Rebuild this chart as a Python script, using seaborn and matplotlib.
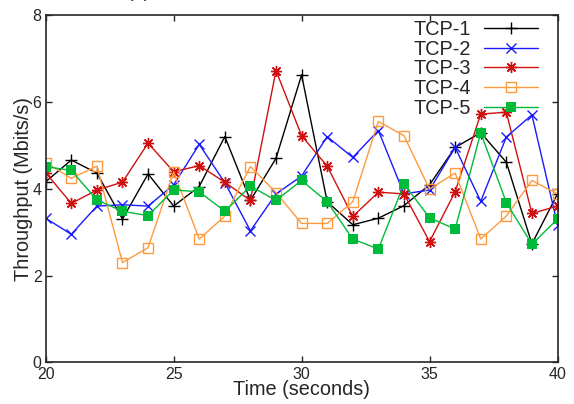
import matplotlib
matplotlib.use("Agg")
import matplotlib.pyplot as plt
import seaborn as sns
import pandas as pd

time = list(range(20, 41))
tcp1 = [4.16, 4.66, 4.36, 3.30, 4.34, 3.60, 4.05, 5.20, 3.73, 4.70, 6.62,
        3.70, 3.17, 3.32, 3.61, 4.09, 4.95, 5.29, 4.61, 2.73, 3.88]
tcp2 = [3.32, 2.95, 3.60, 3.63, 3.60, 4.09, 5.02, 4.14, 3.03, 3.88, 4.29,
        5.20, 4.72, 5.34, 3.88, 3.97, 4.95, 3.71, 5.19, 5.70, 3.17]
tcp3 = [4.37, 3.66, 3.97, 4.15, 5.05, 4.39, 4.53, 4.15, 3.73, 6.72, 5.22,
        4.52, 3.36, 3.92, 3.88, 2.78, 3.93, 5.72, 5.76, 3.43, 3.60]
tcp4 = [4.60, 4.24, 4.52, 2.30, 2.64, 4.39, 2.84, 3.37, 4.51, 3.91, 3.20,
        3.20, 3.70, 5.55, 5.22, 3.99, 4.36, 2.84, 3.37, 4.19, 3.88]
tcp5 = [4.51, 4.42, 3.74, 3.48, 3.38, 3.97, 3.93, 3.48, 4.06, 3.73, 4.19,
        3.70, 2.84, 2.61, 4.11, 3.33, 3.07, 5.29, 3.68, 2.72, 3.30]
series_names = ["TCP-1", "TCP-2", "TCP-3", "TCP-4", "TCP-5"]
x_ticks = [20, 25, 30, 35, 40]
y_ticks = [0, 2, 4, 6, 8]

sns.set_style("ticks")
plt.rcParams['font.family'] = ['Liberation Sans', 'DejaVu Sans']

df = pd.DataFrame({"time": time * 5,
                   "value": tcp1 + tcp2 + tcp3 + tcp4 + tcp5,
                   "series": sum([[n] * len(time) for n in series_names], [])})

fig = plt.figure(figsize=(5.74, 4.04), dpi=100)
ax = fig.add_axes([45.7 / 574, 1 - 362.4 / 404, (557.5 - 45.7) / 574, (362.4 - 15) / 404])

styles = {
    "TCP-1": dict(color="#000000", marker="+", ms=8, mfc="#000000", mew=1.0),
    "TCP-2": dict(color="#1a1aff", marker="x", ms=7, mfc="#1a1aff", mew=1.0),
    "TCP-3": dict(color="#d01010", marker=(8, 2, 0), ms=8, mfc="#d01010", mew=1.0),
    "TCP-4": dict(color="#ff9a3c", marker="s", ms=7, mfc="none", mew=1.0),
    "TCP-5": dict(color="#00bb3a", marker="s", ms=7, mfc="#00bb3a", mew=0.0),
}
for name in series_names:
    st = styles[name]
    sub = df[df["series"] == name]
    sns.lineplot(data=sub, x="time", y="value", ax=ax, color=st["color"],
                 marker=st["marker"], markersize=st["ms"], markerfacecolor=st["mfc"],
                 markeredgecolor=st["color"], markeredgewidth=st["mew"],
                 linewidth=1.0, label=name, sort=False, estimator=None)

ax.set_xlim(20, 40)
ax.set_ylim(0, 8)
ax.set_xticks(x_ticks)
ax.set_yticks(y_ticks)
ax.tick_params(direction="in", length=4, width=1, top=True, right=True,
               labelsize=11.5, pad=3)
for sp in ax.spines.values():
    sp.set_visible(True)
    sp.set_linewidth(1.2)
ax.set_xlabel("Time (seconds)", fontsize=14.3, labelpad=-1)
ax.set_ylabel("Throughput (Mbits/s)", fontsize=14.3, labelpad=0)

leg = ax.legend(loc="upper right", bbox_to_anchor=(0.962, 0.985), frameon=False,
                markerfirst=False, fontsize=14.3, handlelength=2.7,
                handletextpad=0.7, labelspacing=0.03, borderpad=0, borderaxespad=0)

fig.text(139 / 574, 1.007, "(a)", ha="center", va="baseline", fontsize=14)

fig.savefig("out.png", dpi=100)
